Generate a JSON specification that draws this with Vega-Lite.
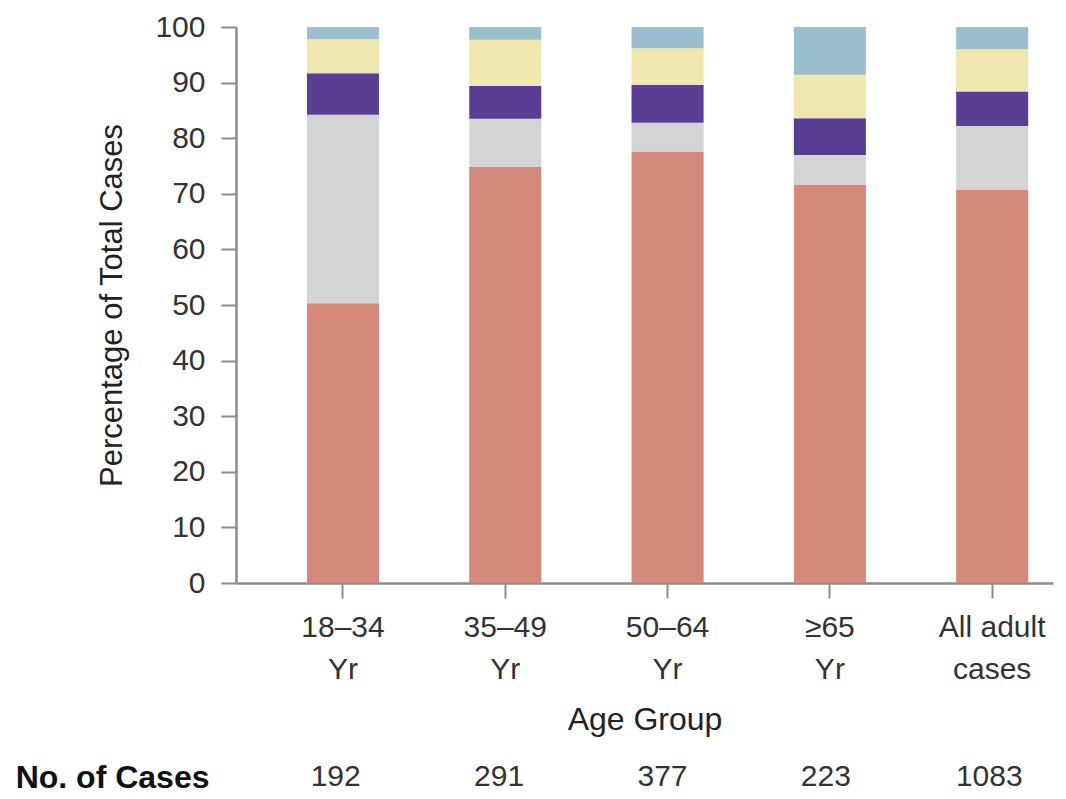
{
  "$schema": "https://vega.github.io/schema/vega-lite/v6.json",
  "background": "white",
  "padding": {"left": 15, "top": 12, "right": 10, "bottom": 5},
  "spacing": 22,
  "config": {
    "view": {"stroke": null},
    "font": "Liberation Sans",
    "axis": {
      "labelFont": "Liberation Sans",
      "titleFont": "Liberation Sans",
      "labelColor": "#333333",
      "titleColor": "#222222",
      "domainColor": "#8c8c8c",
      "tickColor": "#8c8c8c",
      "domainWidth": 2.5,
      "tickWidth": 2,
      "titleFontWeight": "normal"
    }
  },
  "datasets": {
    "shares": [
      {"group": "18–34|Yr", "cat": "A", "pct": 50.3},
      {"group": "18–34|Yr", "cat": "B", "pct": 33.9},
      {"group": "18–34|Yr", "cat": "C", "pct": 7.5},
      {"group": "18–34|Yr", "cat": "D", "pct": 6.1},
      {"group": "18–34|Yr", "cat": "E", "pct": 2.2},
      {"group": "35–49|Yr", "cat": "A", "pct": 74.8},
      {"group": "35–49|Yr", "cat": "B", "pct": 8.7},
      {"group": "35–49|Yr", "cat": "C", "pct": 5.9},
      {"group": "35–49|Yr", "cat": "D", "pct": 8.3},
      {"group": "35–49|Yr", "cat": "E", "pct": 2.3},
      {"group": "50–64|Yr", "cat": "A", "pct": 77.6},
      {"group": "50–64|Yr", "cat": "B", "pct": 5.2},
      {"group": "50–64|Yr", "cat": "C", "pct": 6.8},
      {"group": "50–64|Yr", "cat": "D", "pct": 6.6},
      {"group": "50–64|Yr", "cat": "E", "pct": 3.8},
      {"group": "≥65|Yr", "cat": "A", "pct": 71.6},
      {"group": "≥65|Yr", "cat": "B", "pct": 5.4},
      {"group": "≥65|Yr", "cat": "C", "pct": 6.6},
      {"group": "≥65|Yr", "cat": "D", "pct": 7.8},
      {"group": "≥65|Yr", "cat": "E", "pct": 8.6},
      {"group": "All adult|cases", "cat": "A", "pct": 70.7},
      {"group": "All adult|cases", "cat": "B", "pct": 11.5},
      {"group": "All adult|cases", "cat": "C", "pct": 6.2},
      {"group": "All adult|cases", "cat": "D", "pct": 7.6},
      {"group": "All adult|cases", "cat": "E", "pct": 4.0}
    ],
    "counts": [
      {"group": "18–34|Yr", "n": 192},
      {"group": "35–49|Yr", "n": 291},
      {"group": "50–64|Yr", "n": 377},
      {"group": "≥65|Yr", "n": 223},
      {"group": "All adult|cases", "n": 1083}
    ]
  },
  "resolve": {"scale": {"x": "independent", "y": "independent"}},
  "vconcat": [
    {
      "width": 817,
      "height": 556,
      "data": {"name": "shares"},
      "mark": {"type": "bar"},
      "encoding": {
        "x": {
          "field": "group",
          "type": "nominal",
          "sort": null,
          "scale": {"paddingInner": 0.556, "paddingOuter": 0.295, "align": 0.741},
          "axis": {
            "labelAngle": 0,
            "labelExpr": "split(datum.label, '|')",
            "labelLineHeight": 42,
            "labelFontSize": 30,
            "labelPadding": 14,
            "tickSize": 15,
            "title": "Age Group",
            "titleFontSize": 32,
            "titlePadding": 20
          }
        },
        "y": {
          "field": "pct",
          "type": "quantitative",
          "stack": "zero",
          "scale": {"domain": [0, 100], "nice": false},
          "axis": {
            "values": [0, 10, 20, 30, 40, 50, 60, 70, 80, 90, 100],
            "grid": false,
            "tickSize": 15,
            "labelFontSize": 30,
            "labelPadding": 16,
            "title": "Percentage of Total Cases",
            "titleFontSize": 31,
            "titlePadding": 26
          }
        },
        "color": {
          "field": "cat",
          "type": "nominal",
          "scale": {
            "domain": ["A", "B", "C", "D", "E"],
            "range": ["#d4897a", "#d4d4d4", "#5a3e96", "#efe7ad", "#9cbfd0"]
          },
          "legend": null
        },
        "order": {"field": "cat", "sort": "ascending"}
      }
    },
    {
      "width": 817,
      "height": 40,
      "data": {"name": "counts"},
      "mark": {"type": "text", "fontSize": 30, "font": "Liberation Sans", "color": "#333333"},
      "encoding": {
        "x": {
          "field": "group",
          "type": "nominal",
          "sort": null,
          "scale": {"paddingInner": 0.556, "paddingOuter": 0.295, "align": 0.61},
          "axis": null
        },
        "y": {
          "datum": "No. of Cases",
          "type": "nominal",
          "axis": {
            "title": null,
            "domain": false,
            "ticks": false,
            "labelFontSize": 32,
            "labelFontWeight": "bold",
            "labelColor": "#111111",
            "labelPadding": 27,
            "labelLimit": 400
          }
        },
        "text": {"field": "n", "type": "quantitative"}
      }
    }
  ]
}
